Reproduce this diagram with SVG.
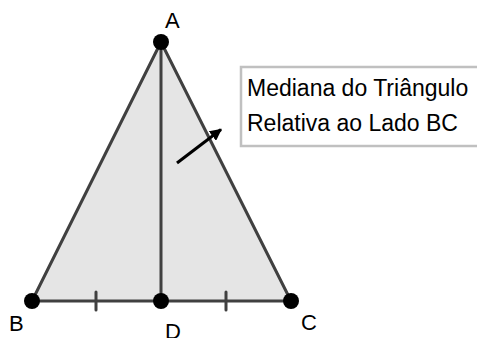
<svg xmlns="http://www.w3.org/2000/svg" width="477" height="338" viewBox="0 0 477 338">
<style>
.lbl{font-family:"Liberation Sans",Arial,sans-serif;font-size:22px;fill:#000}
.txt{font-family:"Liberation Sans",Arial,sans-serif;font-size:23px;fill:#000}
.seg{stroke:#404040;stroke-width:3;fill:none;stroke-linecap:round}
.pt{fill:#000}
</style>
<defs>
<marker id="ah" viewBox="0 0 10 10" refX="9" refY="5" markerWidth="4" markerHeight="4" orient="auto" markerUnits="strokeWidth">
<path d="M0,0 L10,5 L0,10 z" fill="#000"/>
</marker>
</defs>
<rect x="0" y="0" width="477" height="338" fill="#fff"/>
<g id="triangle">
<polygon points="161,42 32,301 291,301" fill="#e5e5e5" stroke="#404040" stroke-width="3" stroke-linejoin="round"/>
</g>
<g id="connectors">
<line class="seg" x1="161" y1="42" x2="161" y2="301"/>
<line class="seg" x1="96" y1="292" x2="96" y2="310"/>
<line class="seg" x1="226" y1="292" x2="226" y2="310"/>
<line x1="177" y1="163" x2="221" y2="129.5" stroke="#000" stroke-width="3" marker-end="url(#ah)"/>
</g>
<g id="A"><circle class="pt" cx="161" cy="42" r="8"/><text class="lbl" x="165" y="28">A</text></g>
<g id="B"><circle class="pt" cx="32" cy="301" r="8"/><text class="lbl" x="9" y="331">B</text></g>
<g id="C"><circle class="pt" cx="291" cy="301" r="8"/><text class="lbl" x="301" y="330">C</text></g>
<g id="D"><circle class="pt" cx="161" cy="301" r="8"/><text class="lbl" x="165" y="339">D</text></g>
<g id="label">
<rect x="241" y="67" width="240" height="79" fill="#fff" stroke="#c0c0c0" stroke-width="2.5"/>
<text class="txt" x="247" y="96">Mediana do Triângulo</text>
<text class="txt" x="247" y="131">Relativa ao Lado BC</text>
</g>
</svg>
